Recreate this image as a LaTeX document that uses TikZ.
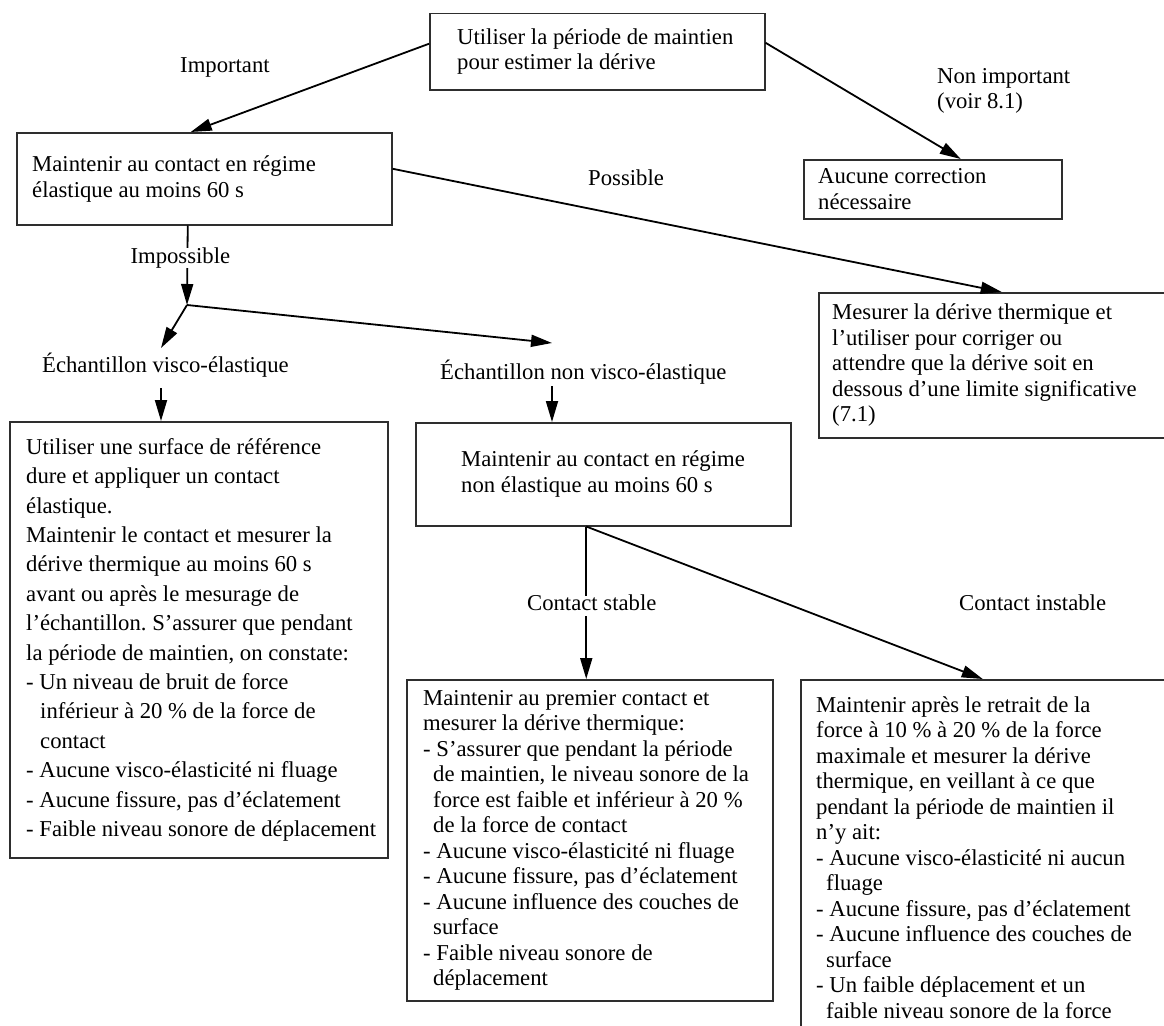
\documentclass[tikz,border=0pt]{standalone}
\usepackage{fontspec}
\setmainfont{Liberation Serif}
\frenchspacing
\usetikzlibrary{arrows.meta,positioning}
\definecolor{trait}{HTML}{2E2E2E}
\tikzset{
  cadre/.style={draw=trait, line width=1.5pt, anchor=north west, inner sep=0pt},
  texte/.style={align=left, inner sep=0pt, font=\fontsize{22.7pt}{25.5pt}\selectfont},
  etiq/.style={inner sep=0pt, text height=15pt, text depth=5pt, font=\fontsize{22.7pt}{25.5pt}\selectfont},
  fleche/.style={line width=1.8pt, -{Triangle[length=21pt,width=12pt]}},
}
\begin{document}
\begin{tikzpicture}[x=1pt,y=-1pt]
  \useasboundingbox (0,0) rectangle (1164,1025);
  \clip (0,0) rectangle (1164,1025);
  % boites
  \node[cadre, minimum width=335pt, minimum height=76pt] (haut) at (429,13) {};
  \node[texte, right=28pt of haut.west] (hautt) {Utiliser la période de maintien\\pour estimer la dérive};
  \node[cadre, minimum width=375pt, minimum height=92pt] (elast) at (16,132) {};
  \node[texte, font=\fontsize{22.7pt}{26pt}\selectfont, right=16pt of elast.west] (elastt) {Maintenir au contact en régime\\élastique au moins 60 s};
  \node[cadre, minimum width=258pt, minimum height=59pt] (aucune) at (803,159) {};
  \node[texte, right=15pt of aucune.west] (aucunet) {Aucune correction\\nécessaire};
  \node[cadre, minimum width=370pt, minimum height=145pt] (mesure) at (818,292) {};
  \node[texte, right=14pt of mesure.west] (mesuret) {Mesurer la dérive thermique et\\l’utiliser pour corriger ou\\attendre que la dérive soit en\\dessous d’une limite significative\\(7.1)};
  \node[cadre, minimum width=378pt, minimum height=436pt] (visco) at (9,421) {};
  \node[texte, font=\fontsize{22.7pt}{29.4pt}\selectfont, right=17pt of visco.west] (viscot) {Utiliser une surface de référence\\
    dure et appliquer un contact\\
    élastique.\\
    Maintenir le contact et mesurer la\\
    dérive thermique au moins 60 s\\
    avant ou après le mesurage de\\
    l’échantillon. S’assurer que pendant\\
    la période de maintien, on constate:\\
    - Un niveau de bruit de force\\
    \hspace*{14pt}inférieur à 20~\% de la force de\\
    \hspace*{14pt}contact\\
    - Aucune visco-élasticité ni fluage\\
    - Aucune fissure, pas d’éclatement\\
    - Faible niveau sonore de déplacement};
  \node[cadre, minimum width=375pt, minimum height=103pt] (nonvisco) at (415,422) {};
  \node[texte, right=46pt of nonvisco.west] (nonviscot) {Maintenir au contact en régime\\non élastique au moins 60 s};
  \node[cadre, minimum width=366pt, minimum height=321pt] (premier) at (406,679) {};
  \node[texte, right=17pt of premier.west] (premiert) {Maintenir au premier contact et\\
    mesurer la dérive thermique:\\
    - S’assurer que pendant la période\\
    \hspace*{10pt}de maintien, le niveau sonore de la\\
    \hspace*{10pt}force est faible et inférieur à 20~\%\\
    \hspace*{10pt}de la force de contact\\
    - Aucune visco-élasticité ni fluage\\
    - Aucune fissure, pas d’éclatement\\
    - Aucune influence des couches de\\
    \hspace*{10pt}surface\\
    - Faible niveau sonore de\\
    \hspace*{10pt}déplacement};
  \node[cadre, minimum width=380pt, minimum height=355pt] (apres) at (800,679) {};
  \node[texte, right=16pt of apres.west] (aprest) {Maintenir après le retrait de la\\
    force à 10~\% à 20~\% de la force\\
    maximale et mesurer la dérive\\
    thermique, en veillant à ce que\\
    pendant la période de maintien il\\
    n’y ait:\\
    - Aucune visco-élasticité ni aucun\\
    \hspace*{10pt}fluage\\
    - Aucune fissure, pas d’éclatement\\
    - Aucune influence des couches de\\
    \hspace*{10pt}surface\\
    - Un faible déplacement et un\\
    \hspace*{10pt}faible niveau sonore de la force};
  % etiquettes
  \node[etiq, anchor=west] (limp) at (180,67) {Important};
  \node[texte, anchor=west] (lnon) at (937,91) {Non important\\(voir 8.1)};
  \node[etiq, anchor=west] (lposs) at (588,180) {Possible};
  \node[etiq, anchor=west] (lvis) at (42,367) {Échantillon visco-élastique};
  \node[etiq, anchor=west] (lnvis) at (440,374) {Échantillon non visco-élastique};
  \node[etiq, anchor=west] (linst) at (959,605) {Contact instable};
  \coordinate (noeud) at (187,305);
  \coordinate (pv) at (161,348);
  \coordinate (pn) at (552,343);
  % fleches
  \draw[fleche] ([yshift=8pt]haut.west) -- ([xshift=-13.5pt]elast.north);
  \draw[fleche] ([yshift=9pt]haut.east) -- ([xshift=28pt]aucune.north);
  \draw[fleche] ([yshift=10pt]elast.east) -- ([xshift=-2pt]mesure.north);
  \draw[fleche] ([xshift=-16.5pt]elast.south) -- node[etiq, fill=white, xshift=-7pt, yshift=7pt] (limposs) {Impossible} (noeud);
  \draw[fleche] (noeud) -- (pv);
  \draw[fleche] (noeud) -- (pn);
  \draw[fleche] ([yshift=-11pt]lvis.south -| pv) -- (pv |- visco.north);
  \draw[fleche] ([yshift=-2pt]lnvis.south -| pn) -- (pn |- nonvisco.north);
  \draw[fleche] ([xshift=-17pt]nonvisco.south) -- node[etiq, fill=white, xshift=5.5pt, yshift=-3pt] (lstab) {Contact stable} ([xshift=-17pt]nonvisco.south |- premier.north);
  \draw[fleche] ([xshift=-17pt]nonvisco.south) -- ([xshift=-8pt]apres.north);
\end{tikzpicture}
\end{document}
